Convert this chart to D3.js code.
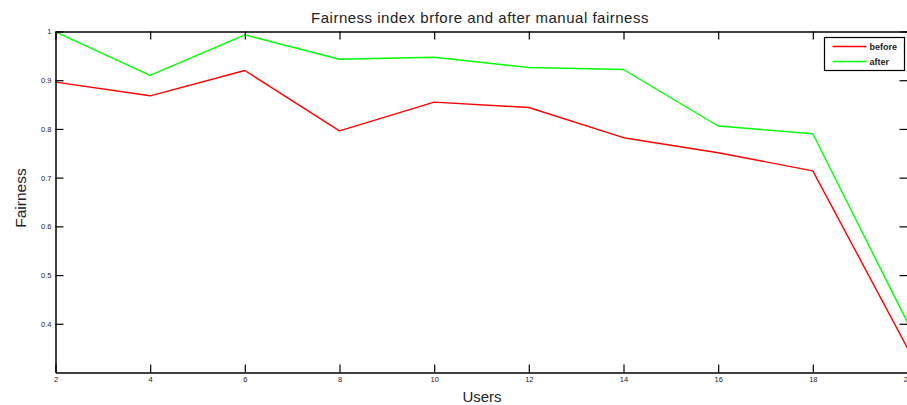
<!DOCTYPE html>
<html>
<head>
<meta charset="utf-8">
<script src="https://cdn.jsdelivr.net/npm/d3@7"></script>
<style>
  html, body { margin: 0; padding: 0; background: #fff; }
  svg { display: block; font-family: "Liberation Sans", Arial, sans-serif; }
</style>
</head>
<body>
<svg id="chart" width="907" height="405"></svg>
<script>
// Number of users on the x axis
const users = [2, 4, 6, 8, 10, 12, 14, 16, 18, 20];
// Fairness index per user count
const before = [0.896, 0.868, 0.92, 0.796, 0.855, 0.844, 0.782, 0.751, 0.714, 0.35];
const after  = [0.999, 0.91, 0.993, 0.943, 0.947, 0.926, 0.922, 0.806, 0.79, 0.403];
// Tick values
const xTicks = [2, 4, 6, 8, 10, 12, 14, 16, 18, 20];
const yTicks = [0.4, 0.5, 0.6, 0.7, 0.8, 0.9, 1];
const seriesNames = ["before", "after"];
const seriesColors = ["#ff0000", "#00ff00"];

const svg = d3.select("#chart");
const plotLeft = 55.5, plotRight = 907.5, plotTop = 31.5, plotBottom = 372.5;
const tickLen = 8;

const x = d3.scaleLinear().domain([2, 20]).range([plotLeft, plotRight]);
const y = d3.scaleLinear().domain([0.3, 1]).range([plotBottom, plotTop]);

// Data lines
const line = d3.line().x((d, i) => x(users[i])).y(d => y(d));
[before, after].forEach((vals, k) => {
  svg.append("path")
    .datum(vals)
    .attr("d", line)
    .attr("fill", "none")
    .attr("stroke", seriesColors[k])
    .attr("stroke-width", 1.4)
    .attr("stroke-linejoin", "round");
});

// Axes with inward ticks on all four sides
const fmt = d => String(d);
const axisBottom = d3.axisBottom(x).tickValues(xTicks).tickFormat(fmt).tickSizeInner(-tickLen).tickSizeOuter(0).tickPadding(4);
const axisTop = d3.axisTop(x).tickValues(xTicks).tickFormat("").tickSizeInner(-tickLen).tickSizeOuter(0);
const axisLeft = d3.axisLeft(y).tickValues(yTicks).tickFormat(fmt).tickSizeInner(-tickLen).tickSizeOuter(0).tickPadding(4);
const axisRight = d3.axisRight(y).tickValues(yTicks).tickFormat("").tickSizeInner(-tickLen).tickSizeOuter(0);

function style(g) {
  g.selectAll(".domain").attr("stroke", "#000").attr("stroke-width", 1.5);
  g.selectAll(".tick line").attr("stroke", "#000").attr("stroke-width", 1.2);
  g.selectAll(".tick text").attr("fill", "#222").attr("font-size", 7.5);
}

svg.append("g").attr("transform", `translate(0,${plotBottom})`).call(axisBottom).call(style);
svg.append("g").attr("transform", `translate(0,${plotTop})`).call(axisTop).call(style);
svg.append("g").attr("transform", `translate(${plotLeft},0)`).call(axisLeft).call(style);
svg.append("g").attr("transform", `translate(${plotRight},0)`).call(axisRight).call(style);

// Title and axis labels
svg.append("text")
  .attr("x", 480).attr("y", 23)
  .attr("text-anchor", "middle")
  .attr("font-size", 15)
  .attr("letter-spacing", 0.5)
  .attr("fill", "#222")
  .text("Fairness index brfore and after manual fairness");

svg.append("text")
  .attr("x", 482).attr("y", 402)
  .attr("text-anchor", "middle")
  .attr("font-size", 15)
  .attr("fill", "#222")
  .text("Users");

svg.append("text")
  .attr("transform", "translate(26,198) rotate(-90)")
  .attr("text-anchor", "middle")
  .attr("font-size", 15.5)
  .attr("fill", "#222")
  .text("Fairness");

// Legend
const lg = svg.append("g").attr("transform", "translate(824.5,37.5)");
lg.append("rect")
  .attr("width", 80).attr("height", 33)
  .attr("fill", "#fff")
  .attr("stroke", "#000").attr("stroke-width", 1.2);
seriesNames.forEach((name, k) => {
  const yy = 9 + k * 15;
  lg.append("line")
    .attr("x1", 8).attr("x2", 42).attr("y1", yy).attr("y2", yy)
    .attr("stroke", seriesColors[k]).attr("stroke-width", 1.4);
  lg.append("text")
    .attr("x", 45).attr("y", yy + 3)
    .attr("font-size", 9)
    .attr("font-weight", "bold")
    .attr("fill", "#222")
    .text(name);
});
</script>
</body>
</html>
